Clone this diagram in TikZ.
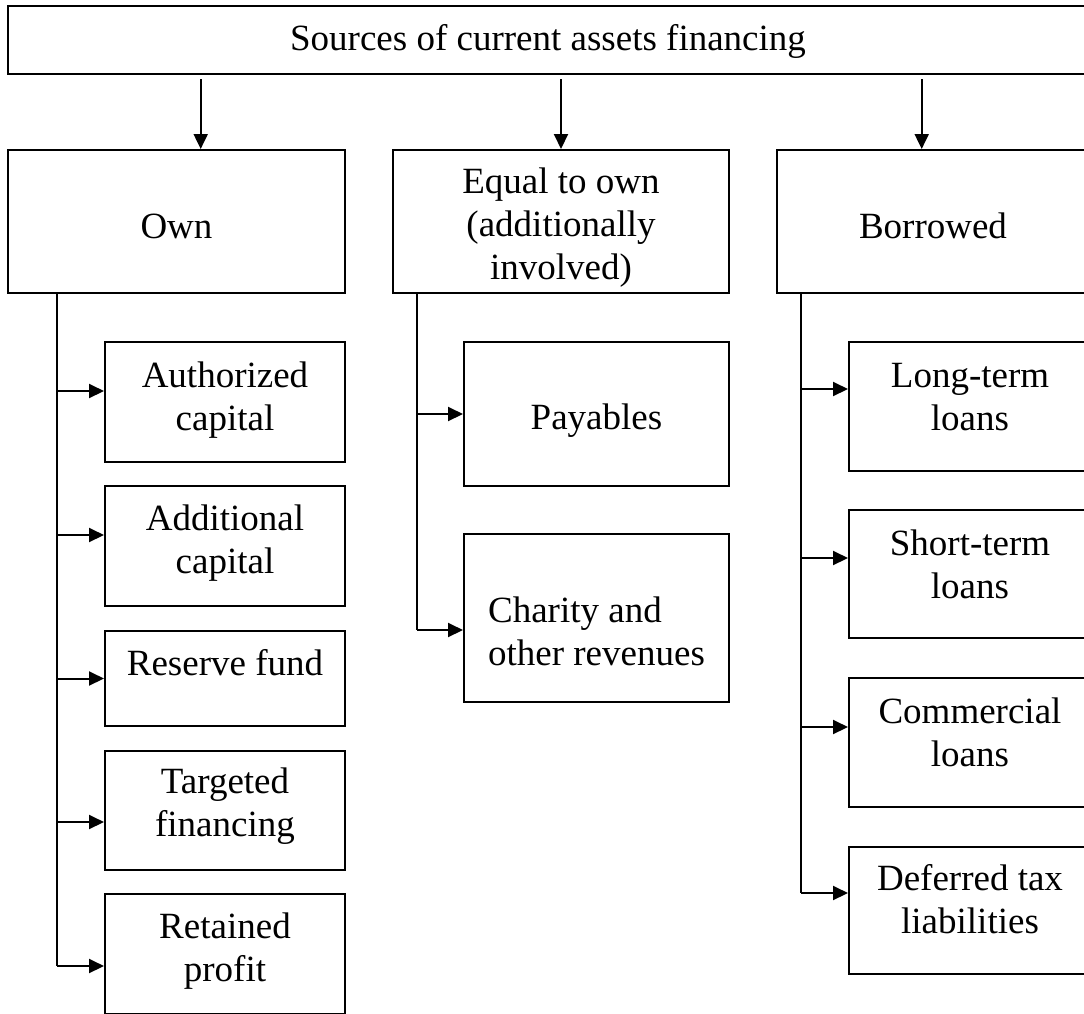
\documentclass[tikz,border=0pt]{standalone}
\usepackage{fontspec}
\setmainfont{Liberation Serif}
\usetikzlibrary{arrows.meta}
% box text: a tabular shifted by #2, keeping its natural extents
\newcommand\boxtxt[3][c]{\raisebox{#2}[\height][\depth]{\begin{tabular}{@{}#1@{}}#3\end{tabular}}}
\begin{document}
\begin{tikzpicture}[x=1pt,y=-1pt,
  box/.style={draw, line width=2pt, inner sep=0pt, font=\fontsize{37}{43}\selectfont},
  arr/.style={line width=2pt, -{Triangle[length=15pt,width=14pt]}},
  trunk/.style={line width=2pt}]
\useasboundingbox (0,0) rectangle (1084,1013);
\clip (0,0) rectangle (1084,1013);
\fill[white] (0,0) rectangle (1084,1013);

% title
\node[box, minimum width=1080pt, minimum height=68pt] (top) at (548,40)
  {\boxtxt{-2pt}{Sources of current assets financing}};

% three groups
\node[box, minimum width=337pt, minimum height=143pt] (own) at (176.5,221.5)
  {\boxtxt{-8pt}{Own}};
\node[box, minimum width=336pt, minimum height=143pt] (equal) at (561,221.5)
  {\boxtxt{-6pt}{Equal to own\\(additionally\\involved)}};
\node[box, minimum width=312pt, minimum height=143pt] (borrowed) at (933,221.5)
  {\boxtxt{-8pt}{Borrowed}};

% own sources
\node[box, minimum width=240pt, minimum height=120pt] (a1) at (225,402)
  {\boxtxt{2pt}{Authorized\\capital}};
\node[box, minimum width=240pt, minimum height=120pt] (a2) at (225,546)
  {\boxtxt{3pt}{Additional\\capital}};
\node[box, minimum width=240pt, minimum height=95pt] (a3) at (225,678.5)
  {\boxtxt{12pt}{Reserve fund}};
\node[box, minimum width=240pt, minimum height=119pt] (a4) at (225,810.5)
  {\boxtxt{4pt}{Targeted\\financing}};
\node[box, minimum width=240pt, minimum height=120pt] (a5) at (225,954)
  {\boxtxt{3pt}{Retained\\profit}};

% equal-to-own sources
\node[box, minimum width=265pt, minimum height=144pt] (p1) at (596.5,414)
  {\boxtxt{-7pt}{Payables}};
\node[box, minimum width=265pt, minimum height=168pt] (p2) at (596.5,618)
  {\boxtxt[l]{-17pt}{Charity and\\other revenues}};

% borrowed sources
\node[box, minimum width=242pt, minimum height=129pt] (b1) at (970,406.5)
  {\boxtxt{6pt}{Long-term\\loans}};
\node[box, minimum width=242pt, minimum height=128pt] (b2) at (970,574)
  {\boxtxt{6pt}{Short-term\\loans}};
\node[box, minimum width=242pt, minimum height=129pt] (b3) at (970,742.5)
  {\boxtxt{6pt}{Commercial\\loans}};
\node[box, minimum width=242pt, minimum height=127pt] (b4) at (970,910.5)
  {\boxtxt{7pt}{Deferred tax\\liabilities}};

% arrows from the title to the groups
\coordinate (ownIn) at ([xshift=24.2pt]own.north);
\coordinate (eqIn) at (equal.north);
\coordinate (borIn) at ([xshift=-11.3pt]borrowed.north);
\foreach \c in {ownIn,eqIn,borIn}
  \draw[arr, shorten <=4pt] (top.south -| \c) -- (\c);

% trunks
\coordinate (ownTrunk) at ([xshift=-119.5pt]own.south);
\coordinate (eqTrunk) at ([xshift=-144pt]equal.south);
\coordinate (borTrunk) at ([xshift=-132pt]borrowed.south);

% arrow entry points
\coordinate (a1in) at ([yshift=11pt]a1.west);
\coordinate (a2in) at ([yshift=11pt]a2.west);
\coordinate (a3in) at (a3.west);
\coordinate (a4in) at ([yshift=-11.5pt]a4.west);
\coordinate (a5in) at ([yshift=-12pt]a5.west);
\coordinate (p1in) at (p1.west);
\coordinate (p2in) at ([yshift=-12pt]p2.west);
\coordinate (b1in) at ([yshift=17.5pt]b1.west);
\coordinate (b2in) at ([yshift=16pt]b2.west);
\coordinate (b3in) at ([yshift=15.5pt]b3.west);
\coordinate (b4in) at ([yshift=17.5pt]b4.west);

\draw[trunk] (ownTrunk) -- (ownTrunk |- a5in);
\foreach \n in {a1in,a2in,a3in,a4in,a5in}
  \draw[arr] (ownTrunk |- \n) -- (\n);

\draw[trunk] (eqTrunk) -- (eqTrunk |- p2in);
\foreach \n in {p1in,p2in}
  \draw[arr] (eqTrunk |- \n) -- (\n);

\draw[trunk] (borTrunk) -- (borTrunk |- b4in);
\foreach \n in {b1in,b2in,b3in,b4in}
  \draw[arr] (borTrunk |- \n) -- (\n);
\end{tikzpicture}
\end{document}
